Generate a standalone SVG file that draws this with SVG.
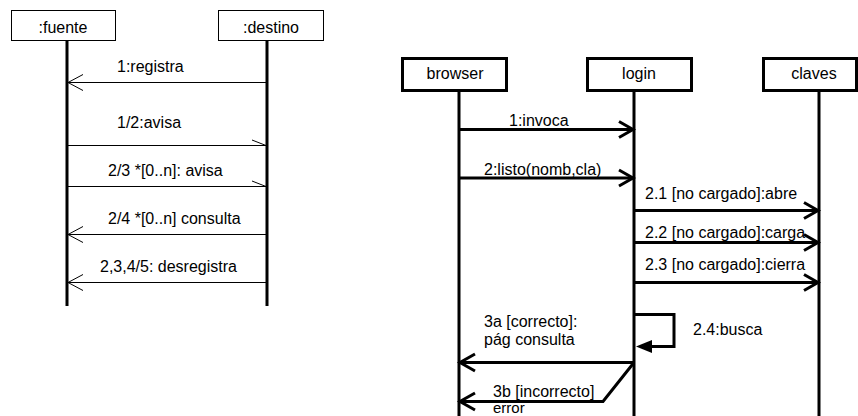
<svg xmlns="http://www.w3.org/2000/svg" width="858" height="416" viewBox="0 0 858 416">
  <style>
    text { font-family: "Liberation Sans", Arial, sans-serif; font-size: 16px; fill: #000; }
    .mid { text-anchor: middle; }
    .box1 { fill: #fff; stroke: #000; stroke-width: 1; }
    .box2 { fill: #fff; stroke: #000; stroke-width: 3; }
    .life { stroke: #000; stroke-width: 3; fill: none; }
    .thin { stroke: #000; stroke-width: 1; fill: none; }
    .thick { stroke: #000; stroke-width: 3; fill: none; }
    .small { font-size: 15px; }
  </style>

  <!-- left diagram: objects -->
  <g id="fuente">
    <rect class="box1" x="11.5" y="10.5" width="104" height="30"/>
    <text class="mid" x="63" y="33">:fuente</text>
    <line class="life" x1="67" y1="41" x2="67" y2="306"/>
  </g>
  <g id="destino">
    <rect class="box1" x="218.5" y="10.5" width="105" height="30"/>
    <text class="mid" x="271" y="33">:destino</text>
    <line class="life" x1="267" y1="41" x2="267" y2="306"/>
  </g>

  <!-- right diagram: objects -->
  <g id="browser">
    <rect class="box2" x="402.5" y="58.5" width="104" height="32"/>
    <text class="mid" x="455" y="79">browser</text>
    <line class="life" x1="459" y1="91" x2="459" y2="416"/>
  </g>
  <g id="login">
    <rect class="box2" x="587.5" y="58.5" width="104" height="32"/>
    <text class="mid" x="639" y="79">login</text>
    <line class="life" x1="634" y1="91" x2="634" y2="416"/>
  </g>
  <g id="claves">
    <rect class="box2" x="763.5" y="58.5" width="93" height="32"/>
    <text class="mid" x="814" y="79">claves</text>
    <line class="life" x1="819" y1="91" x2="819" y2="416"/>
  </g>

  <!-- messages -->
  <g id="connectors">
    <!-- left diagram -->
    <line class="thin" x1="267" y1="82.5" x2="68" y2="82.5"/>
    <polyline class="thin" points="83,74.5 68,82.5 83,90.5"/>
    <text x="117" y="72">1:registra</text>

    <line class="thin" x1="68" y1="145.5" x2="266" y2="145.5"/>
    <line class="thin" x1="252" y1="140" x2="266" y2="145.5"/>
    <text x="117" y="128">1/2:avisa</text>

    <line class="thin" x1="68" y1="186.5" x2="266" y2="186.5"/>
    <line class="thin" x1="252" y1="181" x2="266" y2="186.5"/>
    <text x="108" y="176">2/3 *[0..n]: avisa</text>

    <line class="thin" x1="267" y1="234.5" x2="68" y2="234.5"/>
    <polyline class="thin" points="83,226.5 68,234.5 83,242.5"/>
    <text x="108" y="224">2/4 *[0..n] consulta</text>

    <line class="thin" x1="267" y1="282.5" x2="68" y2="282.5"/>
    <polyline class="thin" points="83,274.5 68,282.5 83,290.5"/>
    <text x="100" y="272">2,3,4/5: desregistra</text>

    <!-- right diagram -->
    <line class="thick" x1="459" y1="129.5" x2="633" y2="129.5"/>
    <polyline class="thick" points="619,121.5 633,129.5 619,137.5"/>
    <text x="509" y="126">1:invoca</text>

    <line class="thick" x1="459" y1="178" x2="633" y2="178"/>
    <polyline class="thick" points="619,170 633,178 619,186"/>
    <text x="484" y="175">2:listo(nomb,cla)</text>

    <line class="thick" x1="634" y1="210.5" x2="818" y2="210.5"/>
    <polyline class="thick" points="804,202.5 818,210.5 804,218.5"/>
    <text x="645" y="199">2.1 [no cargado]:abre</text>

    <line class="thick" x1="634" y1="242.5" x2="818" y2="242.5"/>
    <polyline class="thick" points="804,234.5 818,242.5 804,250.5"/>
    <text x="645" y="238">2.2 [no cargado]:carga</text>

    <line class="thick" x1="634" y1="282.5" x2="818" y2="282.5"/>
    <polyline class="thick" points="804,274.5 818,282.5 804,290.5"/>
    <text x="645" y="270">2.3 [no cargado]:cierra</text>

    <polyline class="thick" points="634,314.5 674,314.5 674,346.5 650,346.5"/>
    <polygon points="636,346.5 652,340 652,353" fill="#000"/>
    <text x="693" y="335">2.4:busca</text>

    <line class="thick" x1="634" y1="362.5" x2="460" y2="362.5"/>
    <polyline class="thick" points="475,354 460,362.5 475,371"/>
    <text x="484" y="327">3a [correcto]:</text>
    <text x="484" y="345">pág consulta</text>

    <polyline class="thick" points="634,362.5 603,401.5 460,401.5"/>
    <polyline class="thick" points="475,393 460,401.5 475,410"/>
    <text x="493" y="397">3b [incorrecto]</text>
    <text class="small" x="493" y="413">error</text>
  </g>
</svg>
